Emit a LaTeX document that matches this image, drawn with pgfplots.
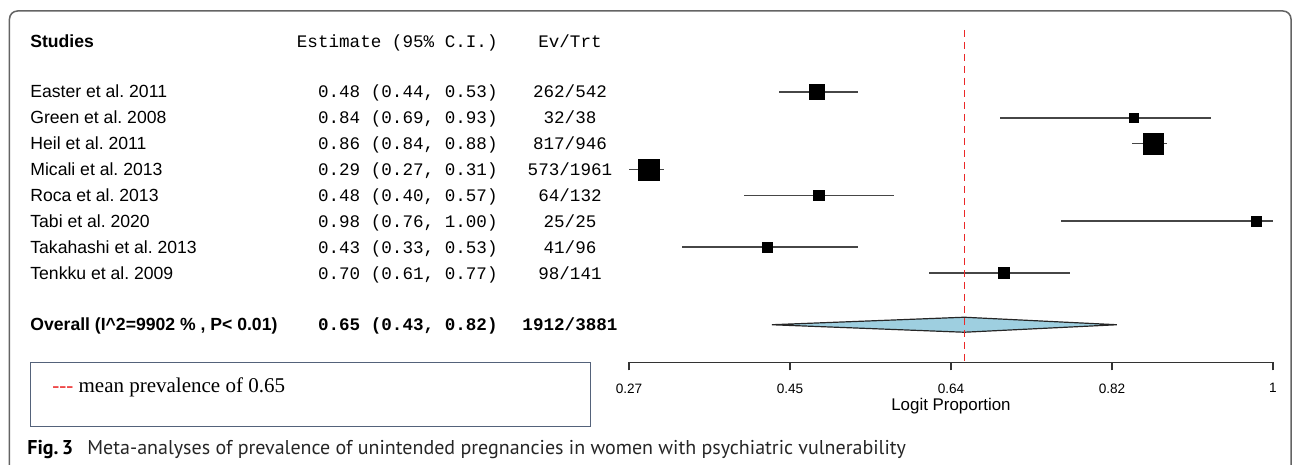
\documentclass[border=0pt]{standalone}
\usepackage{pgfplots}
\pgfplotsset{compat=1.18}
\usepackage{pgfplotstable}
\usepackage{fontspec}
\setmainfont{Liberation Sans}
\newfontfamily\mono{Liberation Mono}
\newfontfamily\tnr{Liberation Serif}
\newfontfamily\capfont{PT Sans}
\definecolor{cibar}{RGB}{70,70,70}
\definecolor{diam}{RGB}{158,207,224}
\definecolor{framecol}{RGB}{100,100,100}
\definecolor{boxcol}{RGB}{84,98,122}
\definecolor{dashred}{RGB}{235,40,40}
\frenchspacing

% y = -row, est, CI limits, distances to them, half side of the square (pt)
\pgfplotstableread{
y  est   lo   hi   ep    em    ms
-1 0.483 0.44 0.53 0.047 0.043 3.8
-2 0.842 0.69 0.93 0.088 0.152 2.3
-3 0.864 0.84 0.88 0.016 0.024 5.1
-4 0.292 0.27 0.31 0.018 0.022 5.2
-5 0.485 0.40 0.57 0.085 0.085 2.6
-6 0.981 0.76 1.00 0.019 0.221 2.3
-7 0.427 0.33 0.53 0.103 0.097 2.4
-8 0.695 0.61 0.77 0.075 0.085 2.7
}\studies

\begin{document}
\begin{tikzpicture}
\begin{axis}[
    scale only axis,
    width=322pt, height=166.3pt,
    xmin=0.27, xmax=1, ymin=-11.46, ymax=1.4,
    clip=false,
    axis x line=bottom, axis y line=none,
    axis line style={-, line width=0.8pt, black!80},
    xtick={0.27,0.4525,0.635,0.8175,1},
    xticklabels={0.27,0.45,0.64,0.82,1},
    tick align=outside, major tick length=4pt,
    tick style={line width=0.8pt, black!80},
    xticklabel style={font=\fontsize{6.8}{8}\selectfont, yshift=-3pt},
    ytick=\empty,
    ]
% confidence intervals
\addplot[only marks, mark=none,
    error bars/.cd, x dir=both, x explicit, error mark=none,
    error bar style={line width=0.8pt, cibar}]
    table[x=est, y=y, x error plus=ep, x error minus=em]{\studies};
% study estimates, square size by weight
\addplot[scatter, only marks, mark=square*,
    scatter/use mapped color={draw=black, fill=black},
    mark options={line width=0.2pt},
    visualization depends on={\thisrow{ms} \as \msz},
    scatter/@pre marker code/.append style={/tikz/mark size=\msz}]
    table[x=est, y=y]{\studies};
% pooled estimate
\addplot[draw=black!85, line width=0.6pt, fill=diam]
    coordinates {(0.432,-10) (0.65,-9.71) (0.823,-10) (0.65,-10.29)} -- cycle;
% mean prevalence
\addplot[dashred, line width=0.7pt, dash pattern=on 3.5pt off 2.5pt]
    coordinates {(0.65,1.4) (0.65,-11.46)};
\end{axis}

\begin{scope}[x=0.5pt, y=-0.5pt, shift={(-314.5pt,181.25pt)}]
  \draw[framecol, line width=0.75pt, rounded corners=4pt]
    (9.5,530) -- (9.5,11) -- (1291,11) -- (1291,530);

  \begin{scope}[every node/.style={inner sep=0pt}]
    \def\fs{\fontsize{8.8}{10}\selectfont}
    % header
    \node[anchor=base west] at (30,47.8) {\fs\bfseries Studies};
    \node[anchor=base east] at (498,47.8) {\fs\mono Estimate (95\% C.I.)};
    \node[anchor=base] at (570,47.8) {\fs\mono Ev/Trt};
    % rows
    \foreach \n/\e/\r [count=\i from 0] in {
        Easter et al. 2011/{0.48 (0.44, 0.53)}/262\slash 542,
        Green et al. 2008/{0.84 (0.69, 0.93)}/32\slash 38,
        Heil et al. 2011/{0.86 (0.84, 0.88)}/817\slash 946,
        Micali et al. 2013/{0.29 (0.27, 0.31)}/573\slash 1961,
        Roca et al. 2013/{0.48 (0.40, 0.57)}/64\slash 132,
        Tabi et al. 2020/{0.98 (0.76, 1.00)}/25\slash 25,
        Takahashi et al. 2013/{0.43 (0.33, 0.53)}/41\slash 96,
        Tenkku et al. 2009/{0.70 (0.61, 0.77)}/98\slash 141} {
      \pgfmathsetmacro\yy{98+25.86*\i}
      \node[anchor=base west] at (30,\yy) {\fs \n};
      \node[anchor=base east] at (498,\yy) {\fs\mono \e};
      \node[anchor=base] at (570,\yy) {\fs\mono \r};
    }
    % overall
    \node[anchor=base west] at (30,330.7) {\fs\bfseries Overall (I\textasciicircum 2=9902 \% , P< 0.01)};
    \node[anchor=base east] at (498,330.7) {\fs\mono\bfseries 0.65 (0.43, 0.82)};
    \node[anchor=base] at (570,330.7) {\fs\mono\bfseries 1912/3881};

    % x label
    \node[anchor=center] at (951,406) {\fontsize{8.45}{10}\selectfont Logit Proportion};

    % legend box
    \draw[boxcol, line width=0.5pt] (31,363) rectangle (591,427);
    \node[anchor=base west] at (52,393)
      {\tnr\fontsize{10.5}{12}\selectfont{\color{dashred}{-}{-}{-}} mean prevalence of 0.65};

    % caption
    \node[anchor=base west] at (27,455) {\capfont\fontsize{10}{12}\selectfont\bfseries Fig.\,3};
    \node[anchor=base west] at (87,455) {\capfont\fontsize{10}{12}\selectfont\color{black!85}
      Meta-analyses of prevalence of unintended pregnancies in women with psychiatric vulnerability};
  \end{scope}

  \pgfresetboundingbox
  \path (0,0) rectangle (1292,465);
\end{scope}
\end{tikzpicture}
\end{document}
